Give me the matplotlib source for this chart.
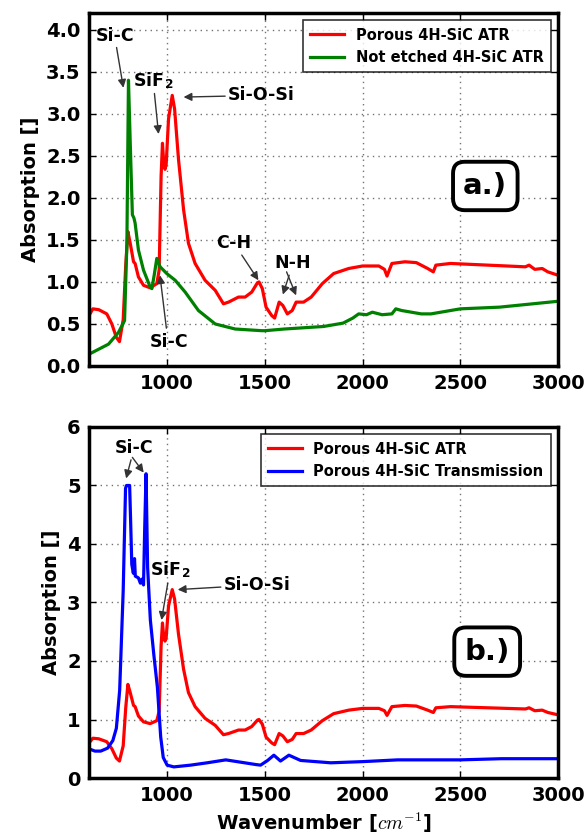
import matplotlib
matplotlib.use("Agg")
import matplotlib.pyplot as plt

# ---------------- data ----------------
red_x = [600, 620, 650, 691, 717, 740, 756, 775, 788, 799, 811, 828, 836, 853, 879, 913, 947,
         959, 969, 976, 983, 989, 995, 1007, 1026, 1038, 1058, 1084, 1109, 1143, 1194, 1246,
         1288, 1314, 1365, 1399, 1433, 1462, 1470, 1487, 1506, 1535, 1550, 1573, 1592, 1615,
         1640, 1660, 1698, 1737, 1794, 1852, 1929, 2000, 2083, 2112, 2125, 2150, 2217, 2275,
         2333, 2362, 2375, 2450, 2642, 2833, 2852, 2881, 2919, 2948, 3000]
red_y = [0.60, 0.68, 0.67, 0.62, 0.50, 0.34, 0.29, 0.55, 1.20, 1.60, 1.46, 1.24, 1.22, 1.06,
         0.96, 0.93, 0.98, 1.14, 2.26, 2.65, 2.40, 2.34, 2.40, 2.94, 3.22, 3.06, 2.46, 1.86,
         1.46, 1.22, 1.02, 0.90, 0.74, 0.76, 0.82, 0.82, 0.88, 0.99, 1.00, 0.92, 0.70, 0.60,
         0.57, 0.76, 0.72, 0.62, 0.66, 0.76, 0.76, 0.82, 0.98, 1.10, 1.16, 1.19, 1.19, 1.15,
         1.07, 1.22, 1.24, 1.23, 1.16, 1.12, 1.20, 1.22, 1.20, 1.18, 1.20, 1.15, 1.16, 1.12,
         1.08]

green_x = [600, 650, 700, 751, 782, 794, 802, 811, 822, 830, 836, 853, 879, 913, 922, 935, 947,
           964, 998, 1041, 1092, 1160, 1246, 1348, 1484, 1500, 1600, 1800, 1900, 1950, 1980,
           2000, 2020, 2050, 2100, 2150, 2170, 2200, 2300, 2350, 2500, 2700, 3000]
green_y = [0.14, 0.20, 0.26, 0.40, 0.54, 1.46, 3.40, 2.66, 1.80, 1.76, 1.70, 1.38, 1.14, 0.94,
           0.92, 1.10, 1.28, 1.18, 1.10, 1.02, 0.88, 0.66, 0.50, 0.44, 0.42, 0.42, 0.44, 0.47,
           0.51, 0.57, 0.62, 0.615, 0.61, 0.64, 0.61, 0.62, 0.68, 0.66, 0.62, 0.62, 0.68, 0.70,
           0.77]

blue_x = [600, 630, 660, 695, 722, 740, 757, 775, 787, 792, 808, 813, 819, 827, 833, 837, 853,
          863, 871, 879, 885, 892, 900, 914, 932, 950, 967, 980, 1000, 1034, 1120, 1205, 1300,
          1377, 1454, 1478, 1514, 1546, 1580, 1623, 1683, 1837, 2000, 2180, 2500, 2710, 3000]
blue_y = [0.50, 0.46, 0.46, 0.51, 0.64, 0.85, 1.50, 3.20, 4.95, 5.00, 5.00, 4.40, 3.65, 3.50,
          3.75, 3.45, 3.42, 3.33, 3.40, 3.30, 4.25, 5.20, 3.60, 2.70, 2.10, 1.55, 0.70, 0.35,
          0.22, 0.19, 0.22, 0.26, 0.31, 0.27, 0.23, 0.22, 0.30, 0.39, 0.29, 0.39, 0.30, 0.26,
          0.28, 0.31, 0.31, 0.33, 0.33]

label_red = "Porous 4H-SiC ATR"
label_green = "Not etched 4H-SiC ATR"
label_blue = "Porous 4H-SiC Transmission"

xticks = [1000, 1500, 2000, 2500, 3000]
yticks_a = [0.0, 0.5, 1.0, 1.5, 2.0, 2.5, 3.0, 3.5, 4.0]
yticks_b = [0, 1, 2, 3, 4, 5, 6]

# ---------------- style ----------------
plt.rcParams['font.family'] = ['DejaVu Sans']
plt.rcParams['font.weight'] = 'bold'
plt.rcParams['mathtext.fontset'] = 'cm'

fig = plt.figure(figsize=(5.87, 8.4), dpi=100)
ax1 = fig.add_axes([0.1516, 0.5643, 0.799, 0.4202])
ax2 = fig.add_axes([0.1516, 0.0738, 0.799, 0.4179])

arrow = dict(arrowstyle='-|>', color='0.2', lw=1.0, mutation_scale=12, shrinkA=0, shrinkB=0)
ann_kw = dict(fontsize=12.5, fontweight='bold', ha='center', va='center')
box_kw = dict(boxstyle='round,pad=0.35,rounding_size=0.4', fc='white', ec='black', lw=2.8)

for ax in (ax1, ax2):
    ax.set_xlim(600, 3000)
    ax.set_xticks(xticks)
    ax.grid(True, linestyle=(0, (1, 3)), color='0.45', lw=1.0)
    for s in ax.spines.values():
        s.set_linewidth(2.5)
    ax.tick_params(direction='in', top=True, right=True, length=5, width=1,
                   labelsize=14, pad=6)

# ---- panel a ----
ax1.plot(red_x, red_y, color='red', lw=2.3, label=label_red)
ax1.plot(green_x, green_y, color='green', lw=2.3, label=label_green)
ax1.set_ylim(0, 4.2)
ax1.set_yticks(yticks_a)
ax1.set_yticklabels([f"{v:.1f}" for v in yticks_a], fontweight='bold')
ax1.set_xticklabels([str(v) for v in xticks], fontweight='bold')
ax1.set_ylabel("Absorption []", fontsize=14, fontweight='bold')
leg1 = ax1.legend(loc='upper right', fancybox=False, edgecolor='black',
                  handlelength=2.3, borderpad=0.5, labelspacing=0.5,
                  prop=dict(weight='bold', size=10.5))
leg1.get_frame().set_linewidth(1.2)

ax1.annotate("Si-C", xy=(776, 3.31), xytext=(731, 3.93), arrowprops=arrow, **ann_kw)
ax1.annotate("SiF$_\\mathregular{2}$", xy=(956, 2.76), xytext=(928, 3.40), arrowprops=arrow, **ann_kw)
ax1.annotate("Si-O-Si", xy=(1084, 3.20), xytext=(1482, 3.22), arrowprops=arrow, **ann_kw)
ax1.annotate("C-H", xy=(1467, 1.02), xytext=(1342, 1.46), arrowprops=arrow, **ann_kw)
ax1.annotate("N-H", xy=(1592, 0.85), xytext=(1644, 1.22), arrowprops=arrow, **ann_kw)
ax1.annotate("", xy=(1660, 0.84), xytext=(1611, 1.12), arrowprops=arrow)
ax1.annotate("", xy=(963, 1.08), xytext=(996, 0.45), arrowprops=arrow)
ax1.text(1008, 0.28, "Si-C", **ann_kw)
ax1.text(0.845, 0.51, "a.)", transform=ax1.transAxes, fontsize=21, fontweight='bold',
         ha='center', va='center', bbox=box_kw)

# ---- panel b ----
ax2.plot(red_x, red_y, color='red', lw=2.3, label=label_red)
ax2.plot(blue_x, blue_y, color='blue', lw=2.3, label=label_blue)
ax2.set_ylim(0, 6)
ax2.set_yticks(yticks_b)
ax2.set_yticklabels([str(v) for v in yticks_b], fontweight='bold')
ax2.set_xticklabels([str(v) for v in xticks], fontweight='bold')
ax2.set_ylabel("Absorption []", fontsize=14, fontweight='bold')
ax2.set_xlabel("Wavenumber [$cm^{-1}$]", fontsize=14, fontweight='bold')
leg2 = ax2.legend(loc='upper right', fancybox=False, edgecolor='black',
                  handlelength=2.3, borderpad=0.5, labelspacing=0.5,
                  prop=dict(weight='bold', size=10.5))
leg2.get_frame().set_linewidth(1.2)

ax2.annotate("Si-C", xy=(790, 5.12), xytext=(831, 5.64), arrowprops=arrow, **ann_kw)
ax2.annotate("", xy=(880, 5.22), xytext=(822, 5.48), arrowprops=arrow)
ax2.annotate("SiF$_\\mathregular{2}$", xy=(971, 2.70), xytext=(1015, 3.56), arrowprops=arrow, **ann_kw)
ax2.annotate("Si-O-Si", xy=(1054, 3.22), xytext=(1460, 3.30), arrowprops=arrow, **ann_kw)
ax2.text(0.849, 0.36, "b.)", transform=ax2.transAxes, fontsize=21, fontweight='bold',
         ha='center', va='center', bbox=box_kw)

fig.savefig("out.png", dpi=100)
